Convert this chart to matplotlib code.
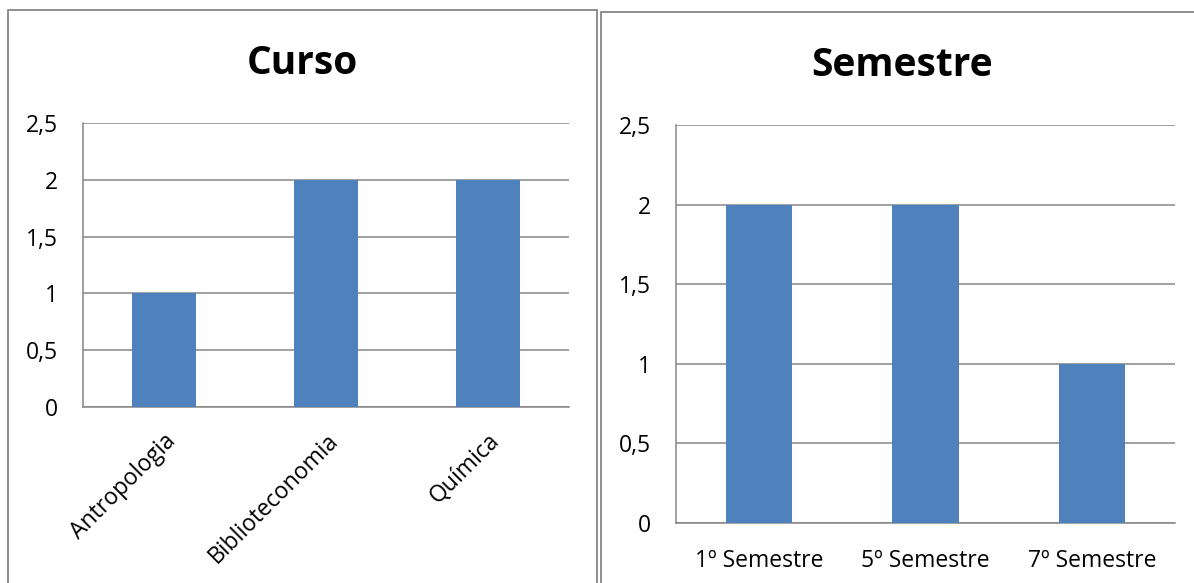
import matplotlib
matplotlib.use("Agg")
import matplotlib.pyplot as plt
from matplotlib.patches import Rectangle

# dados das duas perguntas
cursos = ["Antropologia", "Biblioteconomia", "Química"]
qtd_cursos = [1, 2, 2]

semestres = ["1º Semestre", "5º Semestre", "7º Semestre"]
qtd_semestres = [2, 2, 1]

yticks = [0, 0.5, 1, 1.5, 2, 2.5]

AZUL = "#4F81BD"
CINZA = "#868686"
W, H = 1194, 583

plt.rcParams["font.family"] = ["Open Sans", "DejaVu Sans"]

fig = plt.figure(figsize=(W / 100, H / 100), dpi=100)


def caixa(x0, y0, x1, y1):
    # posicao em pixels (origem no canto superior esquerdo)
    return [x0 / W, (H - y1) / H, (x1 - x0) / W, (y1 - y0) / H]


def grafico(ax, nomes, valores, rot):
    ax.bar(range(len(nomes)), valores, width=0.4, color=AZUL, zorder=3)
    ax.set_xlim(-0.5, len(nomes) - 0.5)
    ax.set_ylim(0, 2.5)
    ax.set_yticks(yticks)
    ax.set_yticklabels([f"{v:g}".replace(".", ",") for v in yticks], fontsize=16.5)
    ax.set_xticks(range(len(nomes)))
    if rot:
        ax.set_xticklabels(nomes, fontsize=16.5, rotation=45, ha="right",
                           rotation_mode="anchor")
        ax.tick_params(axis="x", pad=16)
    else:
        ax.set_xticklabels(nomes, fontsize=16.5)
        ax.tick_params(axis="x", pad=19)
    ax.tick_params(axis="y", length=0, pad=18)
    ax.tick_params(axis="x", length=0)
    ax.grid(axis="y", color=CINZA, lw=1.1, zorder=1)
    for lado in ["top", "right"]:
        ax.spines[lado].set_visible(False)
    for lado in ["left", "bottom"]:
        ax.spines[lado].set_color(CINZA)
        ax.spines[lado].set_linewidth(1.1)
    return ax


ax1 = fig.add_axes(caixa(83, 123, 569, 407))
grafico(ax1, cursos, qtd_cursos, True)
ax2 = fig.add_axes(caixa(676, 125, 1175, 523))
grafico(ax2, semestres, qtd_semestres, False)

fig.text(302 / W, 1 - 63 / H, "Curso", fontsize=28, fontweight="bold",
         ha="center", va="center")
fig.text(902 / W, 1 - 66 / H, "Semestre", fontsize=28, fontweight="bold",
         ha="center", va="center")

# molduras das duas areas de grafico
fig.patches.append(Rectangle((8 / W, -0.1), (597 - 8) / W, 0.1 + (H - 10) / H,
                             transform=fig.transFigure, fill=False,
                             edgecolor=CINZA, lw=1.3))
fig.patches.append(Rectangle((601 / W, -0.1), 0.5, 0.1 + (H - 12) / H,
                             transform=fig.transFigure, fill=False,
                             edgecolor=CINZA, lw=1.3))

fig.savefig("out.png", dpi=100)
